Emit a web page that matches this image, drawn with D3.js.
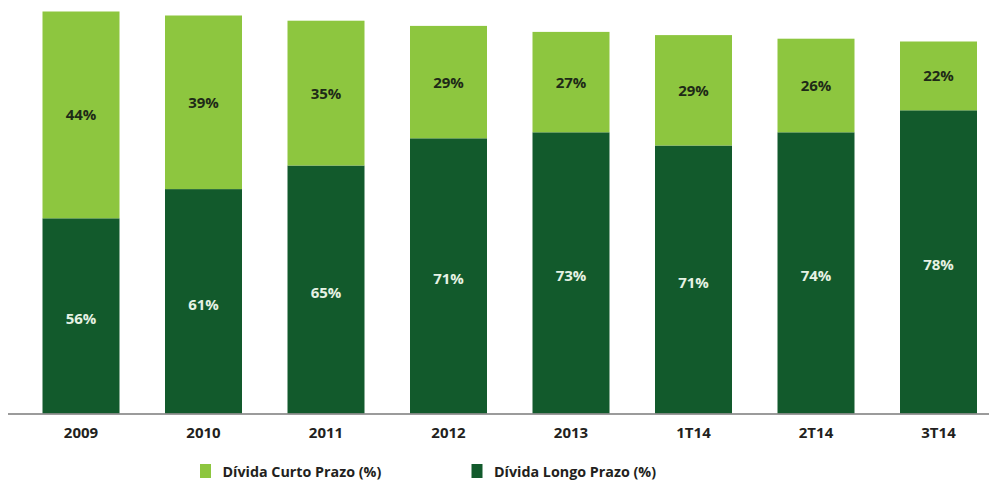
<!DOCTYPE html>
<html>
<head>
<meta charset="utf-8">
<script src="https://cdn.jsdelivr.net/npm/d3@7"></script>
<style>
  html, body { margin: 0; padding: 0; background: #ffffff; }
  svg { display: block; }
  text { font-family: "Open Sans", "DejaVu Sans", sans-serif; }
</style>
</head>
<body>
<svg id="chart" width="989" height="482"></svg>
<script>
// ---- data ----
const categories = ["2009", "2010", "2011", "2012", "2013", "1T14", "2T14", "3T14"];
// Segment heights as drawn (chart units)
const longoPrazo = [48.8, 56.1, 62.0, 68.8, 70.3, 67.0, 70.3, 75.8];
const curtoPrazo = [51.7, 43.4, 36.2, 28.1, 25.1, 27.6, 23.4, 17.2];
// Printed labels (%)
const longoLabels = [56, 61, 65, 71, 73, 71, 74, 78];
const curtoLabels = [44, 39, 35, 29, 27, 29, 26, 22];
const seriesNames = ["Dívida Curto Prazo (%)", "Dívida Longo Prazo (%)"];

// ---- styles ----
const colorCurto = "#8dc63f";
const colorLongo = "#125a2c";

const svg = d3.select("#chart");

const x = d3.scaleBand()
  .domain(categories)
  .range([19.75, 999.75])
  .paddingInner(0.3714)
  .paddingOuter(0.1857);

const y = d3.scaleLinear().domain([0, 100]).range([413.5, 13.5]);

const rows = categories.map((c, i) => ({
  cat: c, longo: longoPrazo[i], curto: curtoPrazo[i],
  lLab: longoLabels[i], cLab: curtoLabels[i]
}));

const g = svg.append("g");

// long term (bottom)
g.selectAll("rect.longo").data(rows).join("rect")
  .attr("class", "longo")
  .attr("x", d => x(d.cat))
  .attr("width", x.bandwidth())
  .attr("y", d => y(d.longo))
  .attr("height", d => y(0) - y(d.longo))
  .attr("fill", colorLongo);

// short term (top)
g.selectAll("rect.curto").data(rows).join("rect")
  .attr("class", "curto")
  .attr("x", d => x(d.cat))
  .attr("width", x.bandwidth())
  .attr("y", d => y(d.longo + d.curto))
  .attr("height", d => y(d.longo) - y(d.longo + d.curto))
  .attr("fill", colorCurto);

// labels
g.selectAll("text.lLab").data(rows).join("text")
  .attr("class", "lLab")
  .attr("x", d => x(d.cat) + x.bandwidth() / 2)
  .attr("y", d => (y(0) + y(d.longo)) / 2 + 3)
  .attr("dy", "0.36em")
  .attr("text-anchor", "middle")
  .attr("font-size", 15)
  .attr("font-weight", 700)
  .attr("fill", "#e6f2e4")
  .text(d => d.lLab + "%");

g.selectAll("text.cLab").data(rows).join("text")
  .attr("class", "cLab")
  .attr("x", d => x(d.cat) + x.bandwidth() / 2)
  .attr("y", d => (y(d.longo) + y(d.longo + d.curto)) / 2)
  .attr("dy", "0.36em")
  .attr("text-anchor", "middle")
  .attr("font-size", 15)
  .attr("font-weight", 700)
  .attr("fill", "#1e2a17")
  .text(d => d.cLab + "%");

// x axis
const axis = svg.append("g")
  .attr("transform", `translate(0,${y(0)})`)
  .call(d3.axisBottom(x).tickSize(0).tickPadding(14));
axis.select(".domain")
  .attr("d", "M8,0.5H989")
  .attr("stroke", "#7a7a7a")
  .attr("stroke-width", 1.5);
axis.selectAll(".tick text")
  .attr("font-family", "'Open Sans', sans-serif")
  .attr("font-size", 15)
  .attr("font-weight", 700)
  .attr("fill", "#231f20");

// legend
const legend = svg.append("g");
const legendItems = [
  { name: seriesNames[0], color: colorCurto, x: 200 },
  { name: seriesNames[1], color: colorLongo, x: 471.5 }
];
const li = legend.selectAll("g").data(legendItems).join("g")
  .attr("transform", d => `translate(${d.x},464)`);
li.append("rect").attr("width", 11).attr("height", 14).attr("fill", d => d.color);
li.append("text")
  .attr("x", 22.5)
  .attr("y", 12.5)
  .attr("font-size", 14.3)
  .attr("font-weight", 700)
  .attr("fill", "#231f20")
  .text(d => d.name);
</script>
</body>
</html>
